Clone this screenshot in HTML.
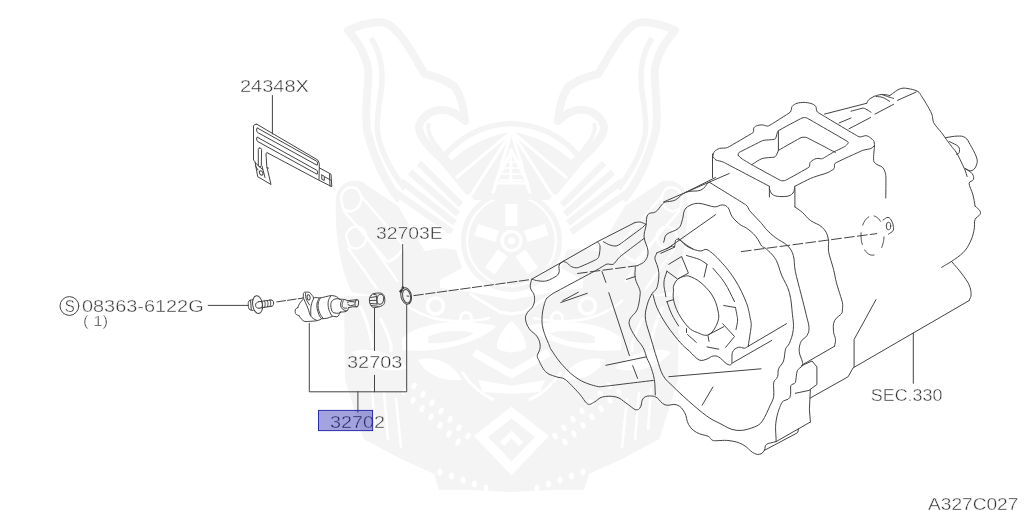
<!DOCTYPE html>
<html><head><meta charset="utf-8"><title>A327C027</title>
<style>
html,body{margin:0;padding:0;background:#fff;overflow:hidden}
svg{display:block;will-change:transform}
text{font-family:"Liberation Sans",sans-serif;fill:#333;stroke:#fff;stroke-width:.4px}
.l{fill:none;stroke:#444;stroke-width:1;stroke-linecap:round;stroke-linejoin:round}
.t{fill:none;stroke:#333;stroke-width:.8;stroke-linecap:round;stroke-linejoin:round}
.w{fill:none;stroke:#f3f3f3;stroke-linecap:round;stroke-linejoin:round}
.wf{fill:#f4f4f4;stroke:none}
</style></head><body>
<svg width="1024" height="510" viewBox="0 0 1024 510">
<rect width="1024" height="510" fill="#fff"/>
<!--WATERMARK-->
<g id="wm">
<g><path d="M400 200C388 186 374 160 367 130C364 105 370 80 368 68C364 50 356 40 348 30.5C360 24 378 20 388 24C400 32 410 48 418 63L425 74C434 76 446 80 455 87C461 96 464 108 465 121C458 114 448 109 438 110C428 112 419 120 419 128C420 138 430 148 442 159L470 193" fill="none" stroke="#f4f4f4" stroke-width="8" stroke-linejoin="round"/>
<path d="M371 38C380 52 384 70 381 92C378 110 376 125 378 135C382 155 392 172 405 189" fill="none" stroke="#f4f4f4" stroke-width="5.5"/>
<path d="M429 123C426 130 432 142 440 150L476 192" fill="none" stroke="#f4f4f4" stroke-width="4"/>
<path d="M443.5 157Q470 125 512.2 123.5" fill="none" stroke="#f4f4f4" stroke-width="5.5"/>
<path d="M449 163Q474 138 512.2 131.5L512.2 200L474 200Z" fill="#f4f4f4"/>
<path d="M511.6 131.5L456 178" stroke="#fff" stroke-width="3" fill="none"/>
<path d="M511.6 131.5L471 195" stroke="#fff" stroke-width="3" fill="none"/>
<path d="M511.6 131.5L491 200" stroke="#fff" stroke-width="3" fill="none"/>
<path d="M512.2 149L495.5 183H512.2Z" fill="#f4f4f4" stroke="#fff" stroke-width="3"/>
<path d="M500 162H511.6" stroke="#fff" stroke-width="1.6"/>
<path d="M500 168H511.6" stroke="#fff" stroke-width="1.6"/>
<path d="M500 174H511.6" stroke="#fff" stroke-width="1.6"/>
<path d="M500 180H511.6" stroke="#fff" stroke-width="1.6"/>
<path d="M512 192.5A48.5 48.5 0 0 0 512 289.5" fill="none" stroke="#f4f4f4" stroke-width="5"/>
<path d="M512.2 197A44 44 0 0 0 512.2 285Z" fill="#f4f4f4"/>
<path d="M511.5 226.0L511.5 204.0" stroke="#fff" stroke-width="12" fill="none"/>
<path d="M497.2 236.4L476.3 229.6" stroke="#fff" stroke-width="12" fill="none"/>
<path d="M502.7 253.1L489.8 270.9" stroke="#fff" stroke-width="12" fill="none"/>
<circle cx="511.5" cy="241" r="9.5" fill="none" stroke="#fff" stroke-width="3"/>
<circle cx="511.5" cy="241" r="3.5" fill="#fff"/>
<path d="M336 198C338 184 350 178 362 182L398 206L424 250L440 262L440 290L400 300L352 292C340 270 334 230 336 198Z" fill="#f4f4f4"/>
<path d="M392 190L452 232" stroke="#f4f4f4" stroke-width="6.5" fill="none"/>
<path d="M401 181L455 223" stroke="#f4f4f4" stroke-width="6.5" fill="none"/>
<path d="M410 172L458 214" stroke="#f4f4f4" stroke-width="6.5" fill="none"/>
<path d="M419 163L461 205" stroke="#f4f4f4" stroke-width="6.5" fill="none"/>
<path d="M404 262C420 250 440 246 456 250L462 268L440 280Z" fill="#f4f4f4"/>
<path d="M341 198C344 184 358 184 361 196C363 208 350 216 343 208Z" stroke="#fff" stroke-width="2.5" fill="none"/>
<path d="M361 196L404 246M343 210L388 262" stroke="#fff" stroke-width="2.5" fill="none"/>
<path d="M346 236C349 224 362 224 366 234C368 246 356 252 349 246ZM366 236L398 282M348 248L378 290" stroke="#fff" stroke-width="2.5" fill="none"/>
<path d="M388 262C396 258 402 252 404 246" stroke="#fff" stroke-width="3" fill="none"/>
<path d="M344 296L400 296L440 288L470 292L512.2 300L512.2 492L470 490L439 490L434 474L399 458L363.5 439L345 380Z" fill="#f4f4f4"/>
<path d="M402 338C420 322 460 318 497 326C480 342 440 354 402 350Z" fill="#fff"/>
<path d="M428 337C440 330 460 329 474 333C462 341 444 344 428 343Z" fill="#f4f4f4"/>
<circle cx="435.5" cy="306" r="8" fill="none" stroke="#fff" stroke-width="3.5"/>
<circle cx="466" cy="318" r="5.5" fill="none" stroke="#fff" stroke-width="3"/>
<path d="M400 300C420 318 450 326 490 318" stroke="#fff" stroke-width="2.5" fill="none"/>
<path d="M470 294L500 312L512.2 314" stroke="#fff" stroke-width="3" fill="none"/>
<path d="M512.2 320C503 328 496 340 497 348C503 353 508 351 512.2 353Z" fill="#fff"/>
<path d="M476 349L512.2 370L512.2 379L472 356Z" fill="#fff"/>
<path d="M418 360C435 355 454 364 462 380C444 382 426 375 418 360Z" fill="#fff"/>
<path d="M352 352C368 346 392 352 408 368C392 374 366 370 352 352Z" fill="#fff"/>
<path d="M380 318C388 333 392 345 391 352" stroke="#fff" stroke-width="3" fill="none"/>
<path d="M360 306C368 322 372 340 372 348" stroke="#fff" stroke-width="3" fill="none"/>
<path d="M478 380L512.2 386L512.2 394L483 392Z" fill="#fff"/>
<path d="M462 372C470 384 480 394 494 400" stroke="#fff" stroke-width="3" fill="none"/>
<ellipse cx="404.0" cy="392.0" rx="3.6" ry="2.4" fill="#fff" transform="rotate(113 404.0 392.0)"/>
<ellipse cx="413.0" cy="400.3" rx="3.6" ry="2.4" fill="#fff" transform="rotate(113 413.0 400.3)"/>
<ellipse cx="422.0" cy="408.7" rx="3.6" ry="2.4" fill="#fff" transform="rotate(113 422.0 408.7)"/>
<ellipse cx="431.0" cy="417.0" rx="3.6" ry="2.4" fill="#fff" transform="rotate(113 431.0 417.0)"/>
<ellipse cx="440.0" cy="425.3" rx="3.6" ry="2.4" fill="#fff" transform="rotate(113 440.0 425.3)"/>
<ellipse cx="449.0" cy="433.7" rx="3.6" ry="2.4" fill="#fff" transform="rotate(113 449.0 433.7)"/>
<ellipse cx="458.0" cy="442.0" rx="3.6" ry="2.4" fill="#fff" transform="rotate(113 458.0 442.0)"/>
<ellipse cx="414.0" cy="386.0" rx="3.6" ry="2.4" fill="#fff" transform="rotate(113 414.0 386.0)"/>
<ellipse cx="423.0" cy="394.3" rx="3.6" ry="2.4" fill="#fff" transform="rotate(113 423.0 394.3)"/>
<ellipse cx="432.0" cy="402.7" rx="3.6" ry="2.4" fill="#fff" transform="rotate(113 432.0 402.7)"/>
<ellipse cx="441.0" cy="411.0" rx="3.6" ry="2.4" fill="#fff" transform="rotate(113 441.0 411.0)"/>
<ellipse cx="450.0" cy="419.3" rx="3.6" ry="2.4" fill="#fff" transform="rotate(113 450.0 419.3)"/>
<ellipse cx="459.0" cy="427.7" rx="3.6" ry="2.4" fill="#fff" transform="rotate(113 459.0 427.7)"/>
<ellipse cx="468.0" cy="436.0" rx="3.6" ry="2.4" fill="#fff" transform="rotate(113 468.0 436.0)"/>
<ellipse cx="440.0" cy="472.0" rx="3.6" ry="2.4" fill="#fff" transform="rotate(89 440.0 472.0)"/>
<ellipse cx="451.5" cy="476.0" rx="3.6" ry="2.4" fill="#fff" transform="rotate(89 451.5 476.0)"/>
<ellipse cx="463.0" cy="480.0" rx="3.6" ry="2.4" fill="#fff" transform="rotate(89 463.0 480.0)"/>
<ellipse cx="474.5" cy="484.0" rx="3.6" ry="2.4" fill="#fff" transform="rotate(89 474.5 484.0)"/>
<ellipse cx="486.0" cy="488.0" rx="3.6" ry="2.4" fill="#fff" transform="rotate(89 486.0 488.0)"/>
<path d="M396 398L401 448M384 392L388 440M372 388L375 430" stroke="#fff" stroke-width="2.5" fill="none"/>
<path d="M512.2 406L474 436L512.2 476Z" fill="#fff"/>
<path d="M512.2 418L488 437L512.2 462Z" fill="#f4f4f4"/>
<path d="M512.2 430L500 442L504 446L512.2 438Z" fill="#fff"/></g>
<g transform="translate(1023 0) scale(-1 1)"><path d="M400 200C388 186 374 160 367 130C364 105 370 80 368 68C364 50 356 40 348 30.5C360 24 378 20 388 24C400 32 410 48 418 63L425 74C434 76 446 80 455 87C461 96 464 108 465 121C458 114 448 109 438 110C428 112 419 120 419 128C420 138 430 148 442 159L470 193" fill="none" stroke="#f4f4f4" stroke-width="8" stroke-linejoin="round"/>
<path d="M371 38C380 52 384 70 381 92C378 110 376 125 378 135C382 155 392 172 405 189" fill="none" stroke="#f4f4f4" stroke-width="5.5"/>
<path d="M429 123C426 130 432 142 440 150L476 192" fill="none" stroke="#f4f4f4" stroke-width="4"/>
<path d="M443.5 157Q470 125 512.2 123.5" fill="none" stroke="#f4f4f4" stroke-width="5.5"/>
<path d="M449 163Q474 138 512.2 131.5L512.2 200L474 200Z" fill="#f4f4f4"/>
<path d="M511.6 131.5L456 178" stroke="#fff" stroke-width="3" fill="none"/>
<path d="M511.6 131.5L471 195" stroke="#fff" stroke-width="3" fill="none"/>
<path d="M511.6 131.5L491 200" stroke="#fff" stroke-width="3" fill="none"/>
<path d="M512.2 149L495.5 183H512.2Z" fill="#f4f4f4" stroke="#fff" stroke-width="3"/>
<path d="M500 162H511.6" stroke="#fff" stroke-width="1.6"/>
<path d="M500 168H511.6" stroke="#fff" stroke-width="1.6"/>
<path d="M500 174H511.6" stroke="#fff" stroke-width="1.6"/>
<path d="M500 180H511.6" stroke="#fff" stroke-width="1.6"/>
<path d="M512 192.5A48.5 48.5 0 0 0 512 289.5" fill="none" stroke="#f4f4f4" stroke-width="5"/>
<path d="M512.2 197A44 44 0 0 0 512.2 285Z" fill="#f4f4f4"/>
<path d="M511.5 226.0L511.5 204.0" stroke="#fff" stroke-width="12" fill="none"/>
<path d="M497.2 236.4L476.3 229.6" stroke="#fff" stroke-width="12" fill="none"/>
<path d="M502.7 253.1L489.8 270.9" stroke="#fff" stroke-width="12" fill="none"/>
<circle cx="511.5" cy="241" r="9.5" fill="none" stroke="#fff" stroke-width="3"/>
<circle cx="511.5" cy="241" r="3.5" fill="#fff"/>
<path d="M336 198C338 184 350 178 362 182L398 206L424 250L440 262L440 290L400 300L352 292C340 270 334 230 336 198Z" fill="#f4f4f4"/>
<path d="M392 190L452 232" stroke="#f4f4f4" stroke-width="6.5" fill="none"/>
<path d="M401 181L455 223" stroke="#f4f4f4" stroke-width="6.5" fill="none"/>
<path d="M410 172L458 214" stroke="#f4f4f4" stroke-width="6.5" fill="none"/>
<path d="M419 163L461 205" stroke="#f4f4f4" stroke-width="6.5" fill="none"/>
<path d="M404 262C420 250 440 246 456 250L462 268L440 280Z" fill="#f4f4f4"/>
<path d="M341 198C344 184 358 184 361 196C363 208 350 216 343 208Z" stroke="#fff" stroke-width="2.5" fill="none"/>
<path d="M361 196L404 246M343 210L388 262" stroke="#fff" stroke-width="2.5" fill="none"/>
<path d="M346 236C349 224 362 224 366 234C368 246 356 252 349 246ZM366 236L398 282M348 248L378 290" stroke="#fff" stroke-width="2.5" fill="none"/>
<path d="M388 262C396 258 402 252 404 246" stroke="#fff" stroke-width="3" fill="none"/>
<path d="M344 296L400 296L440 288L470 292L512.2 300L512.2 492L470 490L439 490L434 474L399 458L363.5 439L345 380Z" fill="#f4f4f4"/>
<path d="M402 338C420 322 460 318 497 326C480 342 440 354 402 350Z" fill="#fff"/>
<path d="M428 337C440 330 460 329 474 333C462 341 444 344 428 343Z" fill="#f4f4f4"/>
<circle cx="435.5" cy="306" r="8" fill="none" stroke="#fff" stroke-width="3.5"/>
<circle cx="466" cy="318" r="5.5" fill="none" stroke="#fff" stroke-width="3"/>
<path d="M400 300C420 318 450 326 490 318" stroke="#fff" stroke-width="2.5" fill="none"/>
<path d="M470 294L500 312L512.2 314" stroke="#fff" stroke-width="3" fill="none"/>
<path d="M512.2 320C503 328 496 340 497 348C503 353 508 351 512.2 353Z" fill="#fff"/>
<path d="M476 349L512.2 370L512.2 379L472 356Z" fill="#fff"/>
<path d="M418 360C435 355 454 364 462 380C444 382 426 375 418 360Z" fill="#fff"/>
<path d="M352 352C368 346 392 352 408 368C392 374 366 370 352 352Z" fill="#fff"/>
<path d="M380 318C388 333 392 345 391 352" stroke="#fff" stroke-width="3" fill="none"/>
<path d="M360 306C368 322 372 340 372 348" stroke="#fff" stroke-width="3" fill="none"/>
<path d="M478 380L512.2 386L512.2 394L483 392Z" fill="#fff"/>
<path d="M462 372C470 384 480 394 494 400" stroke="#fff" stroke-width="3" fill="none"/>
<ellipse cx="404.0" cy="392.0" rx="3.6" ry="2.4" fill="#fff" transform="rotate(113 404.0 392.0)"/>
<ellipse cx="413.0" cy="400.3" rx="3.6" ry="2.4" fill="#fff" transform="rotate(113 413.0 400.3)"/>
<ellipse cx="422.0" cy="408.7" rx="3.6" ry="2.4" fill="#fff" transform="rotate(113 422.0 408.7)"/>
<ellipse cx="431.0" cy="417.0" rx="3.6" ry="2.4" fill="#fff" transform="rotate(113 431.0 417.0)"/>
<ellipse cx="440.0" cy="425.3" rx="3.6" ry="2.4" fill="#fff" transform="rotate(113 440.0 425.3)"/>
<ellipse cx="449.0" cy="433.7" rx="3.6" ry="2.4" fill="#fff" transform="rotate(113 449.0 433.7)"/>
<ellipse cx="458.0" cy="442.0" rx="3.6" ry="2.4" fill="#fff" transform="rotate(113 458.0 442.0)"/>
<ellipse cx="414.0" cy="386.0" rx="3.6" ry="2.4" fill="#fff" transform="rotate(113 414.0 386.0)"/>
<ellipse cx="423.0" cy="394.3" rx="3.6" ry="2.4" fill="#fff" transform="rotate(113 423.0 394.3)"/>
<ellipse cx="432.0" cy="402.7" rx="3.6" ry="2.4" fill="#fff" transform="rotate(113 432.0 402.7)"/>
<ellipse cx="441.0" cy="411.0" rx="3.6" ry="2.4" fill="#fff" transform="rotate(113 441.0 411.0)"/>
<ellipse cx="450.0" cy="419.3" rx="3.6" ry="2.4" fill="#fff" transform="rotate(113 450.0 419.3)"/>
<ellipse cx="459.0" cy="427.7" rx="3.6" ry="2.4" fill="#fff" transform="rotate(113 459.0 427.7)"/>
<ellipse cx="468.0" cy="436.0" rx="3.6" ry="2.4" fill="#fff" transform="rotate(113 468.0 436.0)"/>
<ellipse cx="440.0" cy="472.0" rx="3.6" ry="2.4" fill="#fff" transform="rotate(89 440.0 472.0)"/>
<ellipse cx="451.5" cy="476.0" rx="3.6" ry="2.4" fill="#fff" transform="rotate(89 451.5 476.0)"/>
<ellipse cx="463.0" cy="480.0" rx="3.6" ry="2.4" fill="#fff" transform="rotate(89 463.0 480.0)"/>
<ellipse cx="474.5" cy="484.0" rx="3.6" ry="2.4" fill="#fff" transform="rotate(89 474.5 484.0)"/>
<ellipse cx="486.0" cy="488.0" rx="3.6" ry="2.4" fill="#fff" transform="rotate(89 486.0 488.0)"/>
<path d="M396 398L401 448M384 392L388 440M372 388L375 430" stroke="#fff" stroke-width="2.5" fill="none"/>
<path d="M512.2 406L474 436L512.2 476Z" fill="#fff"/>
<path d="M512.2 418L488 437L512.2 462Z" fill="#f4f4f4"/>
<path d="M512.2 430L500 442L504 446L512.2 438Z" fill="#fff"/></g>

</g>
<!--LABELS-->
<g id="labels" opacity="0.995">
<text x="240" y="92" font-size="16.8" textLength="68.8" lengthAdjust="spacingAndGlyphs">24348X</text>
<text x="376" y="238.8" font-size="16.2" textLength="66.7" lengthAdjust="spacingAndGlyphs">32703E</text>
<text x="82" y="311.8" font-size="16.6" textLength="121.6" lengthAdjust="spacingAndGlyphs">08363-6122G</text>
<text x="82.9" y="325.6" font-size="14.5" stroke-width=".5" textLength="25.3" lengthAdjust="spacingAndGlyphs">( 1)</text>
<text x="347" y="367.7" font-size="16.7" textLength="55.4" lengthAdjust="spacingAndGlyphs">32703</text>
<text x="330" y="427.8" font-size="17.3" textLength="55" lengthAdjust="spacingAndGlyphs">32702</text>
<text x="870.8" y="401.3" font-size="16.1" textLength="71.6" lengthAdjust="spacingAndGlyphs">SEC.330</text>
<text x="928" y="510.2" font-size="16.8" textLength="90.4" lengthAdjust="spacingAndGlyphs">A327C027</text>
<circle cx="69.4" cy="306" r="9.4" class="l"/>
<text x="64.8" y="311.8" font-size="16.6" textLength="10" lengthAdjust="spacingAndGlyphs">S</text>
</g>
<!--LEADERS-->
<g id="leaders" class="l">
<path d="M272.4 95.5V134"/>
<path d="M402.7 244.5V287"/>
<path d="M208.2 305.4H248"/>
<path d="M309.3 323.5V391.8H406.7V304.5"/>
<path d="M374.5 308V350.5M374.5 375.3V391.8"/>
<path d="M357.9 391.8V412"/>
<path d="M913.3 333V383.3"/>
</g>
<!--BRACKET-->
<g id="bracket" class="l">
<path d="M256.8 124.2L254.5 124.6L253.5 126.0L253.5 160.0L255.0 161.7L257.7 176.7L271.0 184.5L266.8 166.7L266.0 153.8L266.8 152.5L318.5 180.0L331.8 186.7L331.0 174.2L319.3 167.8L319.3 163.3L317.7 160.0L256.8 124.2"/>
<path d="M257.3 128.0L316.8 161.3L317.7 163.0L317.2 165.3L258.2 132.8L256.8 131.5L256.6 129.0L257.3 128.0"/>
<path d="M257.3 137.2L316.8 170.3L317.7 172.0L317.2 174.3L258.2 141.8L256.8 140.5L256.6 138.0L257.3 137.2"/>
<path d="M259.2 148.0L258.3 149.5L258.3 165.5L259.8 167.2L261.3 165.5L261.6 149.5L260.6 148.0L259.2 148.0"/>
<ellipse cx="261.2" cy="173" rx="1.6" ry="2.3" transform="rotate(-30 261.2 173)"/>
<path d="M255.0 162.5L262.5 169.5"/>
<path d="M262.0 166.0L265.0 177.5"/>
<path d="M255.5 166.0L258.0 170.0"/>
<path d="M267.0 167.5L268.5 168.2"/>
<path d="M319.3 167.8L319.0 179.5"/>
<path d="M321.8 175.0L321.8 179.3L324.3 180.5L324.3 176.3L321.8 175.0"/>
<path d="M325.0 177.0L330.5 180.0"/>
<path d="M329.5 174.5L330.0 186.0"/>
</g>
<!--PARTS-->
<g id="parts" class="l">
<ellipse cx="257.6" cy="304.6" rx="4.9" ry="9" transform="rotate(-8 257.6 304.6)"/>
<path d="M253.0 299.8C251.9 299.9 250.9 299.7 250.0 300.2C249.1 300.7 248.5 301.5 248.3 302.5C248.1 303.5 248.3 306.5 248.5 307.5C248.7 308.5 249.1 309.3 250.0 309.8C250.9 310.3 252.0 310.2 253.2 310.4"/>
<path d="M250.6 300.3L251.3 309.9"/>
<path d="M258.5 301.8C257.6 302.3 256.9 302.2 256.3 303.0C255.7 303.8 255.5 304.3 255.6 305.3C255.7 306.3 255.8 306.9 256.6 307.6C257.4 308.3 258.0 307.9 259.0 308.2"/>
<path d="M258.5 301.8L271.0 300.0"/>
<path d="M259.0 308.2L271.3 306.3"/>
<path d="M271.0 300.0C271.8 300.3 272.3 300.1 272.9 300.8C273.5 301.5 273.6 302.0 273.6 303.0C273.6 304.0 273.5 304.9 273.0 305.5C272.5 306.1 272.0 306.0 271.3 306.3"/>
<path d="M261.5 301.1C261.9 302.4 262.3 302.8 262.4 304.2C262.5 305.5 262.1 306.1 261.8 307.5"/>
<path d="M264.3 300.7C264.7 302.0 265.1 302.4 265.2 303.8C265.3 305.1 264.9 305.7 264.6 307.1"/>
<path d="M267.1 300.3C267.5 301.6 267.9 302.0 268.0 303.4C268.1 304.8 267.7 305.3 267.4 306.7"/>
<path d="M269.8 299.9C270.2 301.2 270.6 301.7 270.7 303.0C270.8 304.4 270.4 304.9 270.1 306.3"/>
<path stroke-dasharray="8.8 2" d="M276.8 301.9L302.8 298.1"/>
<path d="M303.3 297.5C303.5 295.5 303.1 293.8 303.7 292.8C304.3 291.8 305.3 292.2 306.5 292.1C307.7 292.0 308.5 291.9 309.6 292.5C310.7 293.1 310.9 293.8 311.6 294.8C312.3 295.8 313.4 296.4 313.5 298.0C313.6 299.6 312.5 300.4 312.0 302.3C311.5 304.2 311.0 305.9 310.8 308.5C310.6 311.1 310.8 312.6 310.8 315.6"/>
<path d="M303.3 297.5C304.0 299.3 304.5 300.5 305.3 302.3C306.1 304.1 307.1 306.2 308.0 308.5C308.9 310.8 309.6 314.2 310.4 315.6C311.2 317.0 312.4 317.9 313.5 318.7C314.6 319.5 315.5 319.7 316.7 320.3"/>
<path d="M305.6 293.0C305.6 294.4 305.5 295.4 305.7 296.8C305.9 298.2 306.3 299.3 306.9 300.7C307.5 302.1 308.6 303.4 309.6 305.0"/>
<ellipse cx="308.6" cy="297.4" rx="1.5" ry="2.6" transform="rotate(-8 308.6 297.4)"/>
<path d="M302.9 299.5C301.6 301.1 300.2 302.5 299.4 303.8C298.6 305.1 298.4 306.3 297.8 307.7"/>
<path d="M299.0 315.6C300.0 317.0 300.8 318.5 301.8 319.5C302.8 320.5 303.6 321.2 304.9 321.5C306.2 321.8 308.4 321.4 310.4 321.3C312.4 321.2 315.2 321.0 316.7 320.7C318.2 320.4 319.2 319.9 320.6 319.5"/>
<path d="M297.8 307.7C296.9 308.3 296.5 308.1 295.9 308.9C295.3 309.7 295.0 310.1 295.1 311.3C295.2 312.5 295.4 313.4 296.3 314.4C297.2 315.4 297.7 315.0 299.0 315.6"/>
<path d="M313.5 297.9C314.4 297.8 315.0 297.5 315.9 297.5C316.8 297.5 318.4 298.0 319.8 297.9C321.2 297.8 323.3 297.2 325.3 296.8C327.3 296.4 329.4 295.7 330.8 295.6C332.2 295.5 333.5 295.7 334.7 296.0C335.9 296.3 337.1 297.0 337.8 297.5C338.5 298.0 338.8 298.5 339.4 299.1"/>
<path d="M319.0 298.3C318.2 300.3 317.5 300.9 317.1 303.0C316.7 305.1 316.7 306.2 317.1 308.5C317.5 310.8 318.3 313.0 319.0 314.8C319.7 316.6 320.4 317.1 321.4 318.7"/>
<path d="M320.2 298.3C319.4 300.3 318.7 300.9 318.3 303.0C317.9 305.1 317.9 306.2 318.3 308.5C318.7 310.8 319.9 313.3 320.6 314.8C321.3 316.3 321.9 316.6 322.9 317.9"/>
<path d="M321.4 318.7C323.4 318.6 324.9 318.7 326.9 318.3C328.9 317.9 330.7 316.7 332.4 316.4C334.1 316.1 336.1 317.0 337.1 316.8C338.1 316.6 338.4 315.6 339.0 314.8C339.6 314.0 339.8 313.1 340.2 312.1"/>
<path d="M330.8 296.0C329.8 298.0 328.8 298.5 328.4 300.7C328.0 302.9 327.9 304.9 328.4 307.7C328.9 310.5 330.2 312.8 330.8 314.0C331.4 315.2 331.9 315.4 332.7 316.4"/>
<path d="M340.2 299.5C338.9 299.2 338.4 298.6 337.1 298.7C335.8 298.8 334.1 299.0 332.7 300.3C331.3 301.6 331.0 302.6 330.8 304.6C330.6 306.6 331.1 308.7 331.6 310.1C332.1 311.5 332.5 312.2 333.9 312.8C335.3 313.4 337.5 313.3 338.6 313.2C339.7 313.1 340.0 312.6 341.0 312.1"/>
<path d="M339.4 299.1C341.1 299.2 344.1 299.3 344.9 299.5C345.7 299.7 346.5 300.3 347.3 300.7"/>
<path d="M341.8 300.3C341.3 301.8 340.7 302.2 340.6 303.8C340.5 305.4 340.7 306.4 341.4 307.7C342.1 309.0 342.9 309.5 344.1 310.1C345.3 310.7 346.2 311.1 347.3 310.5C348.4 309.9 347.9 308.9 348.4 307.7"/>
<path d="M340.2 312.1C341.7 312.0 344.1 311.9 344.9 311.7C345.7 311.5 346.5 310.9 347.3 310.5"/>
<path d="M343.3 300.7C342.8 302.3 342.2 303.2 342.2 304.6C342.2 306.0 342.2 306.8 343.3 307.7C344.4 308.6 345.2 307.9 346.5 308.1"/>
<path d="M347.3 300.7L356.5 299.7"/>
<path d="M348.4 307.7L352.7 306.8L356.8 306.8"/>
<ellipse cx="356.8" cy="303.3" rx="1.8" ry="3.5" transform="rotate(6 356.8 303.3)"/>
<path d="M347.6 302.6L349.6 301.5L354.3 301.9"/>
<path d="M348.0 304.6L350.4 305.8L353.9 305.0"/>
<path d="M371.0 295.5C371.8 294.6 372.5 293.9 374.0 293.5C375.5 293.1 377.9 292.9 379.5 293.0C381.1 293.1 381.9 293.2 383.0 294.3C384.1 295.4 384.3 296.3 384.6 298.0C384.9 299.7 385.0 301.0 384.6 302.5C384.2 304.0 383.8 304.6 382.5 305.5C381.2 306.4 379.4 306.6 378.0 307.0C376.6 307.4 376.0 307.8 374.5 307.6C373.0 307.4 372.2 307.2 371.2 306.0C370.2 304.8 369.9 303.6 369.6 302.0C369.3 300.4 369.3 299.2 369.6 298.0C369.9 296.8 370.2 296.4 371.0 295.5Z"/>
<ellipse cx="380.3" cy="299.3" rx="3.3" ry="5" transform="rotate(8 380.3 299.3)"/>
<path d="M370.5 297.5L376.5 296.6"/>
<path d="M370.0 300.5L376.5 300.3"/>
<path d="M370.5 303.5L377.0 304.0"/>
<path d="M371.5 305.6L378.0 306.3"/>
<path d="M376.5 296.6L377.0 304.0"/>
<path d="M373.2 294.0L376.8 295.2"/>
<ellipse cx="406.2" cy="296" rx="5.2" ry="8.3" transform="rotate(-12 406.2 296)"/>
<ellipse cx="406.6" cy="296.3" rx="3.9" ry="6.9" transform="rotate(-12 406.6 296.3)"/>
<path d="M399.6 291.3l1.6-2 1.2 1.2-1.4 2zM401.8 288l1-1.5 1.3 1-1 1.6z" fill="#222"/>
<path d="M407.0 296.0L408.8 296.2"/>
</g>
<!--TRANS-->
<g id="trans" class="l">
<path d="M712.7 156.3C713.3 154.8 713.4 152.7 714.5 151.5C715.6 150.3 717.8 149.0 719.6 148.4C721.4 147.8 725.2 148.6 727.5 147.5C729.8 146.4 751.6 133.6 752.9 132.7C754.2 131.8 753.2 128.9 753.9 127.8C754.6 126.7 756.2 125.9 757.5 125.5C758.8 125.1 761.1 124.8 762.7 124.9C764.3 125.0 766.9 126.7 768.6 125.9C770.3 125.1 788.7 113.5 790.2 112.2C791.7 110.9 791.1 107.7 792.2 106.3C793.3 104.9 795.3 103.9 797.0 103.3C798.7 102.7 801.7 102.4 803.9 102.4C806.1 102.4 809.4 103.0 811.0 103.5C812.6 104.0 814.7 104.9 815.7 106.3C816.7 107.7 816.0 111.1 817.6 112.2C819.2 113.3 856.5 135.6 858.8 136.7C861.1 137.8 864.3 135.1 866.7 135.7C869.1 136.3 872.5 139.4 873.5 140.6C874.5 141.8 874.2 144.0 874.5 145.5"/>
<path d="M874.5 145.5C874.3 150.6 872.8 158.7 874.0 161.8C875.2 164.9 881.1 165.6 882.8 167.6C884.5 169.6 885.5 172.9 885.8 175.5C886.1 178.1 885.8 190.9 885.8 198.0"/>
<path d="M874.5 145.5C873.4 146.4 872.3 147.9 871.0 148.5C869.7 149.1 865.2 149.4 862.7 150.4C860.2 151.4 836.8 162.1 835.3 163.1C833.8 164.1 835.1 167.2 834.0 168.6C832.9 170.0 829.8 171.6 828.0 172.5C826.2 173.4 823.9 173.9 822.0 174.5C820.1 175.1 814.1 176.9 810.6 178.4C807.1 179.9 799.8 183.8 794.9 186.3"/>
<path d="M712.7 156.3C713.7 157.5 714.6 159.3 716.0 160.0C717.4 160.7 721.3 161.1 723.5 162.2C725.7 163.3 754.9 178.7 769.4 186.3"/>
<path d="M769.4 189.0C770.4 190.8 770.5 192.6 772.0 194.0C773.5 195.4 775.2 196.0 777.3 196.3C779.4 196.6 784.5 196.8 787.0 196.3C789.5 195.8 791.4 195.0 793.0 193.0C794.6 191.0 794.2 188.8 794.9 186.3"/>
<path d="M712.5 154.0L712.5 177.5"/>
<path d="M769.4 186.3L769.4 197.0"/>
<path d="M794.9 188.2L794.9 206.9"/>
<path d="M738.2 155.3C737.9 154.6 738.5 152.8 739.2 152.4C739.9 152.0 760.9 141.3 762.7 140.6C764.5 139.9 768.5 140.0 770.0 139.8C771.5 139.6 774.5 139.7 775.5 138.6C776.5 137.5 776.7 132.1 778.4 130.8C780.1 129.5 800.8 118.5 802.0 118.0C803.2 117.5 805.8 117.4 806.9 118.0C808.0 118.6 846.9 141.0 848.0 141.8C849.1 142.6 846.3 145.5 845.2 146.3C844.1 147.1 836.3 150.6 833.4 152.2C830.5 153.8 823.7 158.1 822.6 158.6C821.5 159.1 818.9 158.4 818.0 158.4C817.1 158.4 815.6 158.7 814.8 159.0C814.0 159.3 811.4 161.2 811.0 161.5C810.6 161.8 810.1 162.5 809.9 162.9C809.7 163.3 809.9 166.6 808.9 167.3C807.9 168.0 786.6 179.9 785.4 180.4C784.2 180.9 781.7 180.9 780.5 180.4C779.3 179.9 754.4 166.2 751.8 164.7C749.2 163.2 743.1 159.6 742.0 158.8C740.9 158.0 738.5 156.0 738.2 155.3Z"/>
<path d="M778.4 130.8L778.4 150.4"/>
<path d="M778.4 150.4C783.1 147.7 799.9 138.1 801.0 137.6C802.1 137.1 805.8 137.1 806.9 137.6C808.0 138.1 829.3 149.3 835.3 152.4"/>
<path d="M751.8 164.7C755.4 162.5 758.7 159.9 761.6 158.8C764.5 157.7 768.0 157.8 770.0 157.5C772.0 157.2 773.9 157.8 775.4 156.5C776.9 155.2 777.3 152.6 778.4 150.4"/>
<path d="M824.5 114.1L866.7 103.3"/>
<path d="M866.7 103.3C867.5 101.9 867.4 101.2 868.5 100.0C869.6 98.8 870.4 98.4 872.0 97.5C873.6 96.6 874.5 96.1 876.5 95.5C878.5 94.9 880.0 94.6 881.8 94.5C883.6 94.4 884.4 94.6 886.0 94.8C887.6 95.0 888.1 95.2 889.7 95.5"/>
<path d="M889.7 95.5C893.7 93.0 897.1 89.7 900.5 88.6C903.9 87.5 907.3 88.5 910.3 89.0C913.3 89.5 916.6 90.7 918.1 91.6C919.6 92.5 920.1 94.0 921.1 95.5C922.1 97.0 924.3 100.4 926.0 103.3C927.7 106.2 930.6 111.0 931.8 114.1C933.0 117.2 932.3 120.0 933.8 122.9C935.3 125.8 939.7 130.2 941.6 132.7C943.5 135.2 944.7 137.1 946.5 139.6C948.3 142.1 950.6 145.1 952.4 147.5C954.2 149.9 955.9 151.3 957.3 153.9C958.7 156.5 964.0 167.7 965.0 170.0C966.0 172.3 966.3 174.1 967.1 176.5"/>
<path d="M945.6 137.6C950.5 137.0 953.9 136.1 957.3 136.1C960.7 136.1 962.4 135.7 965.2 137.6C968.0 139.5 968.3 141.4 970.1 144.5C971.9 147.6 974.9 152.9 976.0 156.0C977.1 159.1 977.8 160.6 976.9 163.7C976.0 166.8 974.7 169.5 972.0 170.6C969.3 171.7 968.1 169.4 965.2 168.6"/>
<path d="M949.5 141.6C953.2 143.7 956.6 144.6 958.3 146.5C960.0 148.4 959.6 151.0 959.3 152.4C959.0 153.8 957.6 153.5 956.4 154.3"/>
<path d="M965.2 168.6C968.1 170.7 970.5 171.5 972.0 173.5C973.5 175.5 974.1 177.1 973.4 179.4C972.7 181.7 969.2 180.9 969.1 183.3C969.0 185.7 971.8 190.6 973.0 195.1C974.2 199.6 974.2 201.4 975.0 206.0"/>
<path d="M975.0 206.0C977.1 208.0 979.1 209.4 979.9 210.8C980.7 212.2 980.7 213.3 979.9 214.7C979.1 216.1 976.0 216.9 975.0 219.6C974.0 222.3 975.0 225.9 974.0 230.4C973.0 234.9 972.4 237.5 970.1 242.2C967.8 246.9 966.8 248.8 963.2 252.5C959.6 256.2 955.5 258.7 951.5 261.4C947.5 264.1 945.8 264.8 941.6 267.3"/>
<path d="M951.5 261.4C955.6 266.3 957.7 268.3 961.3 273.1C964.9 277.9 967.4 281.1 969.1 284.9C970.8 288.7 971.1 292.1 971.1 294.7C971.1 297.3 969.9 298.1 969.1 300.6"/>
<path d="M969.1 300.6L860.0 363.9L853.1 367.8L848.2 376.7L810.0 398.2"/>
<path d="M876.0 299.6L859.3 330.0L854.1 339.4L854.1 366.9"/>
<path d="M851.0 111.2C855.9 109.9 861.3 108.4 862.7 108.2C864.1 108.0 864.7 108.6 866.0 109.2C867.3 109.8 868.9 110.9 871.0 112.2"/>
<path d="M839.2 122.9L851.0 118.0"/>
<path d="M849.0 128.8L870.6 117.5"/>
<path d="M875.0 114.1L893.6 104.3"/>
<path d="M897.5 100.4L916.2 92.0"/>
<path d="M876.0 96.5C878.9 96.9 880.1 96.5 882.8 97.5C885.5 98.5 886.8 99.8 889.7 101.4"/>
<path d="M881.8 94.5C884.8 95.5 887.1 96.4 889.0 97.0C890.9 97.6 891.7 97.8 893.6 98.4"/>
<path d="M862.7 225.1C863.1 224.3 863.2 224.0 863.5 223.2C863.8 222.5 864.0 222.2 864.4 221.6C864.7 220.9 864.9 220.6 865.3 220.1C865.8 219.5 866.0 219.3 866.4 218.8C866.9 218.3 867.1 218.1 867.5 217.7C868.0 217.3 868.2 217.2 868.8 216.9"/>
<path d="M874.1 216.0C874.6 216.2 874.8 216.2 875.3 216.4C875.8 216.6 876.0 216.7 876.4 217.0C876.9 217.3 877.1 217.4 877.5 217.8C878.0 218.2 878.2 218.3 878.6 218.8C879.0 219.2 879.2 219.5 879.6 220.0C880.0 220.5 880.1 220.8 880.5 221.3"/>
<path d="M861.1 232.8C861.1 233.6 861.0 233.9 861.0 234.8C861.0 235.6 861.0 235.9 861.0 236.8C861.1 237.6 861.1 237.9 861.2 238.8C861.2 239.6 861.3 239.9 861.4 240.7C861.5 241.5 861.6 241.8 861.8 242.6C862.0 243.4 862.1 243.7 862.3 244.4"/>
<path d="M884.0 236.9C883.9 237.7 883.9 238.0 883.8 238.8C883.8 239.5 883.7 239.8 883.6 240.6C883.5 241.4 883.4 241.7 883.3 242.4C883.1 243.1 883.0 243.4 882.8 244.1C882.6 244.8 882.5 245.1 882.3 245.8C882.1 246.5 881.9 246.7 881.7 247.4"/>
<path d="M864.7 249.9C865.2 250.7 865.4 251.1 866.0 251.7C866.6 252.4 866.8 252.7 867.5 253.2C868.1 253.7 868.4 253.9 869.0 254.3C869.7 254.6 870.0 254.8 870.7 255.0C871.4 255.1 871.7 255.2 872.4 255.2C873.1 255.2 873.4 255.1 874.1 255.0"/>
<ellipse cx="888.5" cy="226" rx="2.2" ry="3.8"/>
<path d="M883.1 220.1C884.9 219.1 886.0 217.2 888.0 217.4C890.0 217.6 890.8 219.5 891.8 221.2C892.8 222.9 893.2 225.0 893.4 226.6C893.6 228.2 893.8 229.6 892.9 230.9C892.0 232.2 890.1 232.9 888.5 234.1"/>
<path stroke-dasharray="9.5 2.3" d="M413.9 295.6L530.2 279.6"/>
<path stroke-dasharray="9.8 3" d="M577.5 273.5L637.3 265.7"/>
<path stroke-dasharray="9.8 3.2" d="M741.4 251.6L876.7 233.6"/>
<path d="M794.9 206.9C798.2 209.3 799.6 210.0 802.7 212.7C805.8 215.4 806.8 217.8 810.6 220.6C814.4 223.4 818.8 223.9 822.4 227.5C826.0 231.1 826.9 233.2 828.2 238.2C829.5 243.2 827.7 246.1 828.6 251.6C829.5 257.1 832.1 263.5 833.5 269.2C834.9 274.9 835.0 277.2 836.5 282.9C838.0 288.6 841.7 299.4 842.4 302.5C843.1 305.6 842.5 308.3 842.4 310.0C842.3 311.7 842.4 312.5 841.4 313.9C840.4 315.3 836.2 317.1 834.5 320.8C832.8 324.5 833.3 328.2 833.5 331.6C833.7 335.0 835.3 336.5 835.5 339.4C835.7 342.3 834.9 343.4 834.5 346.3"/>
<path d="M834.5 346.3L802.2 364.9"/>
<path d="M709.6 182.4C724.8 191.8 743.5 203.2 745.9 204.9C748.3 206.6 747.9 208.5 749.8 210.8C751.7 213.1 759.3 220.9 761.6 223.5C763.9 226.1 764.4 227.5 766.9 230.0C769.4 232.5 771.8 234.8 775.7 237.8C779.6 240.8 784.1 242.3 787.5 245.7C790.9 249.1 791.9 250.9 793.3 255.5C794.7 260.1 794.0 264.7 795.3 271.2C796.6 277.7 799.1 286.5 801.2 294.7C803.3 302.9 804.8 308.7 806.1 314.3C807.4 319.9 808.9 324.2 809.0 327.6C809.1 331.0 808.7 332.5 807.0 335.5C805.3 338.5 802.7 338.3 801.2 341.4C799.7 344.5 799.0 347.0 799.2 351.2C799.4 355.4 801.8 359.0 802.2 361.0C802.6 363.0 803.1 364.1 802.2 365.9C801.3 367.7 798.4 368.1 797.3 370.8C796.2 373.5 796.2 380.4 795.3 382.5C794.4 384.6 791.6 383.5 790.8 385.7C790.0 387.9 791.6 394.1 789.8 397.5C788.0 400.9 783.9 399.1 782.0 402.4C780.1 405.7 777.3 412.9 776.1 421.0C774.9 429.1 776.1 432.9 776.1 441.6"/>
<path d="M663.7 242.2C665.0 238.9 664.1 236.7 666.7 234.3C669.3 231.9 675.4 231.2 678.4 228.4C681.4 225.6 681.2 223.2 682.4 219.6C683.6 216.0 683.1 213.4 684.3 210.8C685.5 208.2 686.5 207.2 689.0 205.9C691.5 204.6 694.5 203.1 698.8 203.3C703.1 203.5 711.1 206.7 714.5 206.9C717.9 207.1 719.7 204.7 722.4 204.9C725.1 205.1 726.5 205.7 728.2 207.8C729.9 209.9 729.8 213.4 732.2 216.7C734.6 220.0 737.4 222.4 740.0 224.5C742.6 226.6 744.2 226.4 746.9 228.4C749.6 230.4 752.6 232.6 755.7 236.3C758.8 240.0 760.3 244.4 761.6 246.0C762.9 247.6 764.4 247.1 765.9 248.6C767.4 250.1 772.6 254.1 775.7 259.4C778.8 264.7 778.9 268.6 781.6 275.1C784.3 281.6 787.3 284.9 789.4 292.7C791.5 300.5 791.7 307.9 792.4 314.3C793.1 320.7 793.9 323.6 793.3 329.6C792.7 335.6 790.5 340.5 789.4 343.3C788.3 346.1 786.4 346.4 785.5 349.2C784.6 352.0 784.8 357.4 783.5 361.0C782.2 364.6 779.8 365.7 778.6 368.8C777.4 371.9 778.6 373.9 777.6 376.7C776.6 379.5 774.3 379.6 773.7 382.5C773.1 385.4 774.3 392.3 773.7 396.3C773.1 400.3 771.9 401.6 770.2 405.3C768.5 409.0 764.8 417.7 762.4 421.0C760.0 424.3 758.4 425.5 754.5 426.9C750.6 428.3 744.4 431.1 736.9 430.4C729.4 429.7 726.0 426.4 720.0 423.5C714.0 420.6 711.7 419.6 706.3 415.7C700.9 411.8 695.4 407.0 688.6 401.0C681.8 395.0 677.2 390.6 672.9 386.3C668.6 382.0 666.1 380.8 663.1 375.5C660.1 370.2 659.3 365.7 656.9 358.4C654.5 351.1 653.4 347.0 651.0 338.8C648.6 330.6 646.2 324.9 645.5 319.2C644.8 313.5 645.7 310.7 647.0 305.5C648.3 300.3 650.4 296.5 652.0 293.7C653.6 290.9 655.9 290.9 656.9 287.8C657.9 284.7 659.2 278.5 658.8 272.5C658.4 266.5 655.2 261.4 654.9 258.8C654.6 256.2 656.1 255.4 656.9 252.9"/>
<path d="M656.9 252.9L672.5 246.0L674.5 247.2L660.8 253.3"/>
<path d="M637.3 265.7C640.6 263.6 642.8 263.9 645.1 260.8C647.4 257.7 648.2 255.3 648.0 251.0C647.8 246.7 644.5 242.1 644.1 237.3C643.7 232.5 645.2 230.7 646.0 226.0C646.8 221.3 645.8 217.6 647.8 214.7C649.8 211.8 652.8 213.8 655.7 211.8C658.6 209.8 660.2 206.3 661.6 204.9C663.0 203.5 663.6 202.7 665.5 202.0C667.4 201.3 671.5 201.8 675.3 200.0C679.1 198.2 680.8 194.2 686.0 192.2C691.2 190.2 697.0 191.8 700.8 190.2C704.6 188.6 706.9 183.9 707.6 183.3C708.3 182.7 708.8 182.8 709.6 182.4"/>
<path d="M635.3 266.7C635.3 271.6 634.5 274.0 635.3 278.4C636.1 282.8 638.5 286.0 639.2 288.2C639.9 290.4 640.4 291.4 640.2 293.7C640.0 296.0 639.0 305.0 637.3 309.4C635.6 313.8 631.7 315.6 630.4 318.2C629.1 320.8 628.7 322.3 629.4 325.1C630.1 327.9 632.4 332.2 635.3 336.9C638.2 341.6 640.8 343.4 643.1 347.6C645.4 351.8 645.7 355.3 647.0 358.4C648.3 361.5 649.3 362.5 650.4 365.7C651.5 368.9 653.3 373.5 654.3 379.4C655.3 385.3 654.9 388.4 655.3 395.0"/>
<path d="M531.4 280.0C531.0 283.3 529.8 284.6 530.4 287.8C531.0 291.0 533.7 292.0 534.3 295.7C534.9 299.4 534.7 302.0 533.3 305.5C531.9 309.0 529.0 309.8 527.5 312.4C526.0 315.0 525.2 316.2 525.5 319.2C525.8 322.2 526.9 325.3 529.4 329.0C531.9 332.7 535.1 333.2 537.3 336.9C539.5 340.6 540.2 342.8 540.2 346.7C540.2 350.6 537.5 353.6 537.3 355.5C537.1 357.4 537.7 358.1 538.6 359.8C539.5 361.5 542.2 368.3 545.5 371.6C548.8 374.9 551.3 374.9 555.3 376.5C559.3 378.1 561.6 376.9 565.1 379.4C568.6 381.9 574.8 388.8 578.8 393.1C582.8 397.4 585.0 402.4 587.6 403.9C590.2 405.4 591.8 403.3 594.5 402.0C597.2 400.7 598.6 397.9 602.4 397.0C606.2 396.1 611.4 395.8 616.1 397.0C620.8 398.2 621.9 400.3 625.9 402.9C629.9 405.5 633.4 409.2 635.7 409.8C638.0 410.4 639.3 408.9 640.6 406.9C641.9 404.9 641.1 400.4 643.5 398.0C645.9 395.6 648.8 396.0 651.4 396.0C654.0 396.0 655.1 396.6 657.3 398.0C659.5 399.4 661.0 403.4 665.1 404.9C669.2 406.4 672.6 403.2 676.9 404.9C681.2 406.6 682.3 408.7 684.7 412.7C687.1 416.7 686.2 420.5 688.6 424.5C691.0 428.5 692.5 430.0 696.5 432.4C700.5 434.8 705.7 435.1 708.2 436.3C710.7 437.5 710.6 440.0 713.3 440.6C716.0 441.2 723.1 439.8 729.0 440.6C734.9 441.4 738.0 442.1 742.7 444.5C747.4 446.9 749.9 450.9 752.5 452.4C755.1 453.9 756.8 454.7 759.4 454.3C762.0 453.9 762.8 452.5 764.3 450.4C765.8 448.3 764.2 446.1 766.3 444.5C768.4 442.9 772.0 442.8 776.1 441.6"/>
<path d="M546.7 298.3C546.0 299.7 545.5 300.1 545.1 301.6C544.7 303.1 542.6 309.5 542.2 315.3C541.8 321.1 541.8 323.4 543.1 329.0C544.4 334.6 548.1 342.4 549.0 344.7C549.9 347.0 550.0 348.0 551.4 350.0C552.8 352.0 557.5 359.7 563.1 365.7C568.7 371.7 572.0 375.2 578.8 379.4C585.6 383.6 593.3 385.4 596.5 386.3C599.7 387.2 601.0 386.6 604.3 386.3C607.6 386.0 632.7 382.9 653.3 380.4"/>
<path d="M531.7 279.2L563.3 261.3L597.5 241.7L635.0 222.5"/>
<path d="M635.0 222.5C637.1 222.3 638.7 221.9 640.0 222.0C641.3 222.1 641.8 222.5 643.0 223.0C644.2 223.5 644.6 223.7 645.8 224.2"/>
<path d="M531.7 279.2C534.5 279.9 535.5 280.5 538.3 280.8C541.1 281.1 543.3 281.7 546.7 280.8C550.1 279.9 555.1 277.0 556.7 275.8C558.3 274.6 558.7 273.7 559.2 271.7C559.7 269.7 558.3 267.2 559.2 265.0C560.1 262.8 561.6 262.9 563.3 261.3"/>
<path d="M563.3 261.3C565.1 262.1 565.9 262.2 567.5 263.3C569.1 264.4 569.6 265.9 571.7 266.7C573.8 267.5 575.6 268.3 578.3 267.5C581.0 266.7 594.9 260.3 596.7 259.2C598.5 258.1 598.7 257.0 599.2 255.0C599.7 253.0 600.3 247.8 600.0 245.8C599.7 243.8 598.5 243.4 597.5 241.7"/>
<path d="M603.3 241.7C605.8 242.9 607.6 244.3 610.0 245.0C612.4 245.7 614.3 246.4 616.7 245.8C619.1 245.2 621.0 243.4 623.3 241.7C625.6 240.0 641.1 228.6 642.5 227.5C643.9 226.4 644.6 225.4 645.8 224.2"/>
<path d="M546.7 298.3C548.8 296.7 551.0 294.6 553.3 293.3C555.6 292.0 593.5 271.7 596.7 270.0C599.9 268.3 604.7 264.9 606.7 264.2C608.7 263.5 611.5 265.2 613.3 264.2C615.1 263.2 617.6 258.7 620.0 256.7C622.4 254.7 636.6 244.1 644.2 238.3"/>
<path d="M663.5 202.0L729.2 173.5"/>
<path d="M686.0 192.2L715.5 177.5"/>
<path d="M666.7 249.0L715.5 214.7"/>
<path d="M748.2 346.3L786.5 323.7"/>
<path d="M732.5 362.9L771.8 340.4"/>
<path d="M668.8 376.7L761.0 368.8"/>
<path d="M702.2 405.1L712.9 387.0"/>
<path d="M605.9 365.3L646.1 356.9"/>
<path d="M560.8 302.5L587.3 293.3"/>
<path d="M562.7 300.6L578.4 292.2"/>
<path d="M626.5 279.4L635.3 276.5"/>
<path d="M776.1 441.6L810.4 422.0"/>
<path d="M602.0 271.6L605.9 282.4"/>
<path d="M608.8 292.7L629.4 355.5"/>
<path d="M632.7 365.7L637.6 378.4"/>
<path d="M678.2 238.2C681.1 240.6 682.0 241.8 685.0 244.0C688.0 246.2 689.6 246.9 693.0 249.0"/>
<path d="M764.3 450.4L797.6 432.7L798.6 428.8"/>
<path d="M810.4 389.6L809.4 409.2L810.4 422.0"/>
<path d="M801.2 365.9L812.0 361.0L816.9 366.9L816.9 384.5L809.0 390.4L795.3 393.3"/>
<path d="M674.5 247.0C675.8 243.7 674.0 239.2 677.5 239.2C681.0 239.2 683.6 244.6 688.2 247.0C692.8 249.4 697.0 250.6 700.0 251.0C703.0 251.4 704.3 248.4 707.0 249.6C709.7 250.8 714.4 254.7 718.8 259.4C723.2 264.1 728.8 270.1 734.5 279.0C740.2 287.9 743.8 296.2 746.3 302.5C748.8 308.8 749.5 315.1 750.2 318.2C750.9 321.3 751.4 322.5 751.2 325.7C751.0 328.9 749.5 337.6 748.2 346.3"/>
<path d="M653.0 294.7C654.6 300.1 654.6 302.4 656.9 307.5C659.2 312.6 662.0 318.1 666.7 325.1C671.4 332.1 677.0 338.8 680.4 342.7C683.8 346.6 685.6 347.7 689.4 351.2C693.2 354.7 696.2 358.7 699.2 360.0C702.2 361.3 704.3 359.8 707.0 359.0C709.7 358.2 710.4 356.5 712.9 356.1C715.4 355.7 716.6 355.8 718.8 357.0C721.0 358.2 724.9 362.9 726.7 363.9C728.5 364.9 730.7 365.7 731.6 363.9C732.5 362.1 731.3 355.2 732.5 352.2C733.7 349.2 736.0 348.1 738.4 347.3C740.8 346.5 742.5 348.4 744.3 348.2C746.1 348.0 746.6 347.1 748.2 346.3"/>
<path d="M673.5 290.0C673.5 291.6 672.7 295.7 673.5 299.6C674.3 303.5 675.5 307.9 678.4 313.3C681.3 318.7 685.1 323.8 688.2 327.0C691.3 330.2 693.1 331.0 697.3 332.5C701.5 334.0 704.6 336.8 709.0 334.5C713.4 332.2 716.1 326.5 717.8 321.8C719.5 317.1 718.8 314.8 717.8 310.0C716.8 305.2 715.6 300.7 712.0 295.0C708.4 289.3 703.7 285.1 700.0 282.0C696.3 278.9 691.8 277.2 690.0 276.5C688.2 275.8 687.4 275.6 685.5 276.0C683.6 276.4 680.0 277.2 677.5 279.4C675.0 281.6 674.0 284.8 673.5 286.3C673.0 287.8 673.5 288.4 673.5 290.0Z"/>
<path d="M668.8 264.3L681.6 256.5L688.4 273.1L677.6 279.0L666.9 271.2"/>
<path d="M686.5 255.5C691.8 257.1 695.6 257.9 699.2 259.4C702.8 260.9 703.7 262.2 707.0 264.3"/>
<path d="M707.0 264.3L704.1 277.0"/>
<path d="M712.9 268.2C717.9 274.4 720.4 276.3 724.7 282.9C729.0 289.5 730.4 293.7 734.5 301.6"/>
<path d="M723.7 305.5L735.5 307.5"/>
<path d="M735.5 307.5C736.0 310.3 737.4 317.3 737.5 318.2C737.6 319.1 737.6 320.9 737.5 321.8C737.4 322.7 736.4 327.6 736.0 329.6"/>
<path d="M666.9 271.2C665.6 276.1 664.1 277.8 663.9 282.9C663.7 288.0 665.1 290.9 665.9 296.7"/>
<path d="M666.9 301.6L673.7 299.6"/>
<path d="M666.9 301.6C669.0 306.9 669.3 309.2 671.8 314.3C674.3 319.4 675.7 321.1 678.6 326.0"/>
<path d="M722.7 323.7L734.5 336.5L725.7 347.3"/>
<path d="M709.0 334.5L723.7 326.7"/>
<path d="M708.0 335.5L709.0 341.4"/>
<path d="M707.0 346.9L718.8 349.2"/>
<path d="M686.5 328.6L686.5 332.5"/>
<path d="M687.5 334.5L696.3 342.4"/>
</g>
<rect x="318.5" y="410.4" width="54.1" height="20.2" fill="#0000aa" fill-opacity=".36" stroke="#2c2cb0" stroke-width="1"/>
</svg>
</body></html>
